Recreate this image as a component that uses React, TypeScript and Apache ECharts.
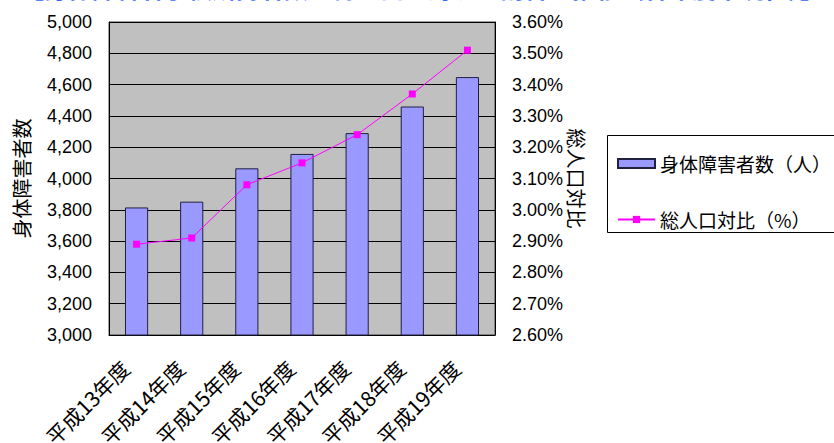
import React, { useEffect, useRef } from "react";
import * as echarts from "echarts";

const TITLE = "【身体障害者手帳所持者数と総人口に対する割合の推移（各年度末現在）】";
const categories = ["平成13年度", "平成14年度", "平成15年度", "平成16年度", "平成17年度", "平成18年度", "平成19年度"];
const personCounts = [3815, 3852, 4065, 4157, 4290, 4460, 4648];
const populationRatio = [2.89, 2.91, 3.08, 3.15, 3.24, 3.37, 3.51];
const barName = "身体障害者数（人）";
const lineName = "総人口対比（%）";
const leftAxisName = "身体障害者数";
const rightAxisName = "総人口対比";

const NUM_FONT = "'Liberation Sans', Arial, sans-serif";
const JP_FONT = "'Noto Sans CJK JP', sans-serif";

export default function App() {
  const ref = useRef<HTMLDivElement>(null);
  useEffect(() => {
    if (!ref.current) return;
    const chart = echarts.init(ref.current, null, { renderer: "svg" });
    chart.setOption({
      animation: false,
      backgroundColor: "#ffffff",
      grid: {
        left: 109,
        right: 339,
        top: 22,
        bottom: 108,
        containLabel: false,
        outerBoundsMode: "none",
        show: true,
        backgroundColor: "#C0C0C0",
        borderColor: "#404040",
        borderWidth: 1,
      },
      graphic: [
        {
          type: "text",
          left: 20,
          top: -25,
          style: {
            text: TITLE,
            font: "bold 24px 'Noto Sans CJK JP', sans-serif",
            fill: "#3366ff",
          },
        },
        {
          type: "rect",
          shape: { x: 607.5, y: 135.5, width: 260, height: 97 },
          style: { fill: "#ffffff", stroke: "#000000", lineWidth: 1 },
          z: 0,
        },
      ],
      legend: {
        orient: "vertical",
        left: 612,
        top: 149,
        itemWidth: 37,
        itemHeight: 9,
        itemGap: 37,
        z: 10,
        textStyle: { fontFamily: JP_FONT, fontSize: 19, color: "#000000", padding: [0, 0, 0, 0] },
        data: [{ name: barName, icon: "rect" }, { name: lineName }],
      },
      xAxis: {
        type: "category",
        data: categories,
        boundaryGap: true,
        axisLine: { lineStyle: { color: "#000000", width: 1 } },
        axisTick: { inside: true, length: 6, lineStyle: { color: "#000000" } },
        axisLabel: {
          rotate: 45,
          interval: 0,
          margin: 18,
          padding: [0, 16, 0, 0],
          fontFamily: JP_FONT,
          fontSize: 21,
          color: "#000000",
        },
      },
      yAxis: [
        {
          type: "value",
          min: 3000,
          max: 5000,
          interval: 200,
          name: leftAxisName,
          nameLocation: "middle",
          nameGap: 78,
          nameTextStyle: { fontFamily: JP_FONT, fontSize: 20, color: "#000000" },
          axisLine: { show: true, lineStyle: { color: "#000000" } },
          axisTick: { show: false },
          splitLine: { show: true, lineStyle: { color: "#000000", width: 1 } },
          axisLabel: {
            margin: 17,
            fontFamily: NUM_FONT,
            fontSize: 18,
            color: "#000000",
            formatter: (v: number) => v.toLocaleString("en-US"),
          },
        },
        {
          type: "value",
          min: 2.6,
          max: 3.6,
          interval: 0.1,
          name: rightAxisName,
          nameLocation: "middle",
          nameRotate: -90,
          nameGap: 66,
          nameTextStyle: { fontFamily: JP_FONT, fontSize: 20, color: "#000000" },
          axisLine: { show: true, lineStyle: { color: "#000000" } },
          axisTick: { show: true, inside: true, length: 6, lineStyle: { color: "#000000" } },
          splitLine: { show: false },
          axisLabel: {
            margin: 17,
            fontFamily: NUM_FONT,
            fontSize: 18,
            color: "#000000",
            formatter: (v: number) => v.toFixed(2) + "%",
          },
        },
      ],
      series: [
        {
          name: barName,
          type: "bar",
          yAxisIndex: 0,
          data: personCounts,
          barWidth: "42%",
          itemStyle: { color: "#9999FF", borderColor: "#202040", borderWidth: 1 },
        },
        {
          name: lineName,
          type: "line",
          yAxisIndex: 1,
          data: populationRatio,
          symbol: "rect",
          symbolSize: 7,
          lineStyle: { color: "#FF00FF", width: 1 },
          itemStyle: { color: "#FF00FF" },
        },
      ],
    });
    return () => chart.dispose();
  }, []);
  return (
    <div
      ref={ref}
      style={{ position: "fixed", left: 0, top: 0, width: 834, height: 443 }}
    />
  );
}
